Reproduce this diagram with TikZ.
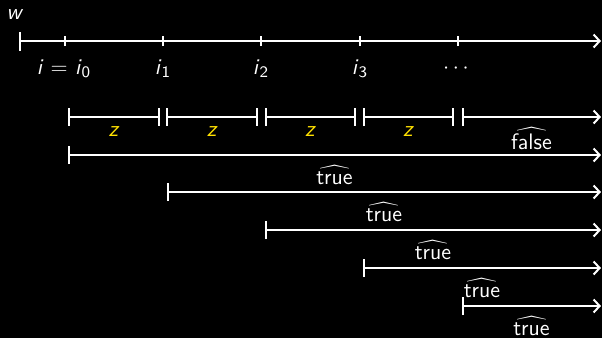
\documentclass[tikz,border=0pt]{standalone}
\usetikzlibrary{arrows.meta,calc}
\definecolor{zyellow}{RGB}{255,225,0}
\newcommand{\hatword}[1]{$\widehat{\textsf{#1}}$}
\newcommand{\idx}[1]{\textit{i}$_{\mathsf{#1}}$}
\begin{document}
\begin{tikzpicture}[x=0.5pt,y=-0.5pt,
  font=\sffamily\fontsize{11.2}{13.5}\selectfont,
  every node/.style={text=white, inner sep=0pt},
  axis/.style={white, line width=1pt},
  ray/.style={axis, {Bar[width=9pt]}-{Straight Barb[length=3pt,width=6.5pt]}},
  seg/.style={axis, {Bar[width=9pt]}-{Bar[width=9pt]}},
  baselab/.style={anchor=base},
  zlab/.style={text=zyellow, anchor=center},
  vlab/.style={anchor=north}]
\fill[black] (0,0) rectangle (602,338);
\useasboundingbox (0,0) rectangle (602,338);

% the word w and its positions
\node (w) at (15,15) {\textit{w}};
\coordinate (w0) at (19,41);
\coordinate (wend) at (601,41);
\draw[axis, {Bar[width=9.5pt]}-{Straight Barb[length=3pt,width=6.5pt]}] (w0) -- (wend);
\foreach \n/\x in {0/65,1/163,2/261,3/360,4/458}{
  \coordinate (t\n) at (\x,41);
  \draw[axis] ([yshift=-2.5pt]t\n) -- ([yshift=2.5pt]t\n);
}
\node[baselab] (l0) at (64,74) {\textit{i} = \idx{0}};
\node[baselab] (l1) at (163,74) {\idx{1}};
\node[baselab] (l2) at (261,74) {\idx{2}};
\node[baselab] (l3) at (360,74) {\idx{3}};
\node[anchor=center] (l4) at (456,69) {$\cdots$};

% factorisation into blocks z
\coordinate (s0) at (68,117);
\coordinate (e0) at (160,117);
\coordinate (s1) at (166.5,117);
\coordinate (e1) at (258,117);
\coordinate (s2) at (265,117);
\coordinate (e2) at (356,117);
\coordinate (s3) at (363,117);
\coordinate (e3) at (454,117);
\coordinate (s4) at (462,117);
\coordinate (e4) at (601,117);
\foreach \k in {0,1,2,3}{
  \draw[seg] (s\k) -- (e\k);
  \node[zlab] (z\k) at ($(s\k)!0.5!(e\k)+(0,15)$) {\textit{z}};
}
\draw[ray] (s4) -- (e4);
\node[vlab] (f) at ($(s4)!0.5!(e4)+(0,10)$) {\hatword{false}};

% suffixes
\foreach \k/\x/\y in {1/68/155,2/167/192,3/265/230,4/363/268,5/462/306}{
  \coordinate (r\k) at (\x,\y);
  \coordinate (q\k) at (601,\y);
  \draw[ray] (r\k) -- (q\k);
  \node[vlab] (v\k) at ($(r\k)!0.5!(q\k)+(0,10)$) {\hatword{true}};
}
\end{tikzpicture}
\end{document}
